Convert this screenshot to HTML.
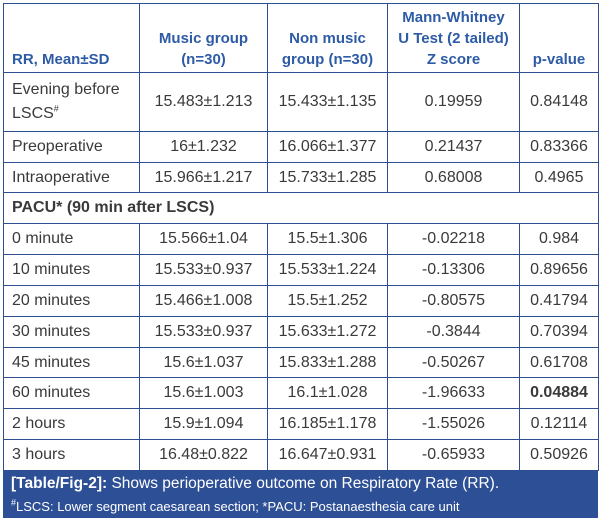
<!DOCTYPE html>
<html><head><meta charset="utf-8"><style>
body{margin:0;width:600px;height:521px;background:#fff;font-family:"Liberation Sans",sans-serif;overflow:hidden;position:relative}
table{position:absolute;left:3px;top:3px;border-collapse:collapse;table-layout:fixed;width:595px}
td{border:1.5px solid #2d4f91;color:#3a3a3a;font-size:16px;text-align:center;padding:0 4px;line-height:24px}
td:first-child{text-align:left;padding-left:8px}
tr.h td{color:#2e5ba6;font-weight:bold;vertical-align:bottom;padding-bottom:2px;line-height:21px;font-size:15px}
.cap{position:absolute;left:3px;top:470px;width:595px;height:48px;background:#2d4f95;color:#fff}
.cap .a{position:absolute;left:8px;top:5px;font-size:15.5px}
.cap .b{position:absolute;left:8px;top:29px;font-size:13px}
sup{font-size:9px;line-height:0}
</style></head><body>
<table>
<colgroup><col style="width:136px"><col style="width:128px"><col style="width:120px"><col style="width:132px"><col style="width:79px"></colgroup>
<tr class="h" style="height:69px"><td>RR, Mean±SD</td><td>Music group<br>(n=30)</td><td>Non music<br>group (n=30)</td><td>Mann-Whitney<br>U Test (2 tailed)<br>Z score</td><td>p-value</td></tr>
<tr style="height:59px"><td>Evening before<br>LSCS<sup>#</sup></td><td>15.483±1.213</td><td>15.433±1.135</td><td>0.19959</td><td>0.84148</td></tr>
<tr style="height:31px"><td>Preoperative</td><td>16±1.232</td><td>16.066±1.377</td><td>0.21437</td><td>0.83366</td></tr>
<tr style="height:30px"><td>Intraoperative</td><td>15.966±1.217</td><td>15.733±1.285</td><td>0.68008</td><td>0.4965</td></tr>
<tr style="height:31px"><td colspan="5" style="text-align:left;font-weight:bold">PACU* (90 min after LSCS)</td></tr>
<tr style="height:31px"><td>0 minute</td><td>15.566±1.04</td><td>15.5±1.306</td><td>-0.02218</td><td>0.984</td></tr>
<tr style="height:31px"><td>10 minutes</td><td>15.533±0.937</td><td>15.533±1.224</td><td>-0.13306</td><td>0.89656</td></tr>
<tr style="height:31px"><td>20 minutes</td><td>15.466±1.008</td><td>15.5±1.252</td><td>-0.80575</td><td>0.41794</td></tr>
<tr style="height:31px"><td>30 minutes</td><td>15.533±0.937</td><td>15.633±1.272</td><td>-0.3844</td><td>0.70394</td></tr>
<tr style="height:30px"><td>45 minutes</td><td>15.6±1.037</td><td>15.833±1.288</td><td>-0.50267</td><td>0.61708</td></tr>
<tr style="height:31px"><td>60 minutes</td><td>15.6±1.003</td><td>16.1±1.028</td><td>-1.96633</td><td style="font-weight:bold">0.04884</td></tr>
<tr style="height:31px"><td>2 hours</td><td>15.9±1.094</td><td>16.185±1.178</td><td>-1.55026</td><td>0.12114</td></tr>
<tr style="height:31px"><td>3 hours</td><td>16.48±0.822</td><td>16.647±0.931</td><td>-0.65933</td><td>0.50926</td></tr>
</table>
<div class="cap"><div class="a"><b>[Table/Fig-2]:</b> Shows perioperative outcome on Respiratory Rate (RR).</div><div class="b"><sup>#</sup>LSCS: Lower segment caesarean section; *PACU: Postanaesthesia care unit</div></div>
</body></html>
